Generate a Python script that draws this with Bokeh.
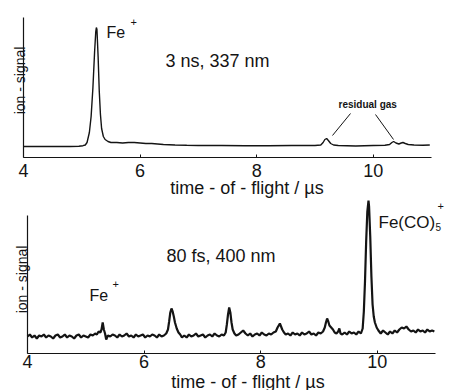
import math
from bokeh.plotting import figure
from bokeh.models import Label, FixedTicker, Range1d
from bokeh.layouts import column
from bokeh.embed import file_html
from bokeh.resources import INLINE

# ---------------- data ----------------
# upper trace: 3 ns, 337 nm  (time in microseconds, signal in arbitrary units)
top_t = [4.00, 4.20, 4.40, 4.60, 4.80, 4.95, 5.02, 5.06, 5.09, 5.13,
         5.16, 5.19, 5.22, 5.24, 5.25, 5.26, 5.28, 5.30, 5.32, 5.34,
         5.37, 5.40, 5.45, 5.50, 5.60, 5.70, 5.80, 5.90, 6.00, 6.10,
         6.20, 6.30, 6.40, 6.60, 6.80, 7.00, 7.40, 7.80, 8.20, 8.60,
         9.00, 9.10, 9.14, 9.17, 9.20, 9.23, 9.27, 9.32, 9.40, 9.70,
         10.00, 10.20, 10.28, 10.32, 10.35, 10.39, 10.44, 10.48, 10.51, 10.55,
         10.60, 10.70, 10.85, 10.97]
top_signal = [0, 0, 0, 0, 0, 0.3, 0.8, 1.5, 4, 14,
              30, 58, 95, 115, 119, 117, 90, 55, 32, 18,
              10, 7, 5, 4, 4, 3.5, 4, 4, 3.5, 3,
              3, 2.5, 2, 1.5, 1.2, 1, 1, 0.8, 0.8, 1,
              1, 1.5, 4, 7, 8, 6, 3, 1.5, 1, 0.5,
              1, 1.2, 2, 4, 5, 3.5, 2.5, 3.5, 4, 3,
              2, 1.5, 1.2, 1.5]

# lower trace: 80 fs, 400 nm
bottom_t = [4.00, 4.04, 4.08, 4.12, 4.16, 4.20, 4.24, 4.28, 4.32, 4.36,
            4.40, 4.44, 4.48, 4.52, 4.56, 4.60, 4.64, 4.68, 4.72, 4.76,
            4.80, 4.84, 4.88, 4.92, 4.96, 5.00, 5.04, 5.08, 5.12,
            5.16, 5.19, 5.22, 5.25, 5.27, 5.29, 5.31, 5.33, 5.35, 5.38,
            5.42, 5.46, 5.50, 5.54, 5.58, 5.62, 5.66, 5.70, 5.74, 5.78,
            5.82, 5.86, 5.90, 5.94, 5.98, 6.02, 6.06, 6.10, 6.14, 6.18,
            6.22, 6.26, 6.30, 6.34, 6.38,
            6.41, 6.43, 6.45, 6.47, 6.49, 6.51, 6.53, 6.56, 6.59, 6.62, 6.65,
            6.69, 6.73, 6.77, 6.81, 6.85, 6.89, 6.93, 6.97, 7.01, 7.05,
            7.09, 7.13, 7.17, 7.21, 7.25, 7.29, 7.33, 7.37,
            7.40, 7.42, 7.44, 7.46, 7.48, 7.50, 7.52, 7.55, 7.58,
            7.62, 7.66, 7.70, 7.74, 7.78, 7.82, 7.86, 7.90, 7.94, 7.98,
            8.02, 8.06, 8.10, 8.14, 8.18, 8.22,
            8.26, 8.29, 8.31, 8.33, 8.35, 8.37, 8.40, 8.43,
            8.47, 8.51, 8.55, 8.59, 8.63, 8.67, 8.71, 8.75, 8.79, 8.83,
            8.87, 8.91, 8.95, 8.99, 9.03, 9.07,
            9.10, 9.12, 9.14, 9.16, 9.18, 9.21, 9.24, 9.27, 9.30, 9.33,
            9.35, 9.37, 9.40,
            9.44, 9.48, 9.52, 9.56, 9.60, 9.64, 9.68, 9.72,
            9.75, 9.77, 9.79, 9.81, 9.83, 9.85, 9.86, 9.88, 9.90, 9.92,
            9.94, 9.96, 9.99, 10.02,
            10.06, 10.10, 10.14, 10.18, 10.22, 10.26, 10.30, 10.34, 10.38, 10.42,
            10.46, 10.50, 10.54, 10.58, 10.62, 10.66, 10.70, 10.74, 10.78, 10.82,
            10.86, 10.90, 10.94, 10.98]
bottom_signal = [0, 2, -1, 1, -2, 1, 0, 2, -1, 1,
                 0, -2, 1, 2, -1, 0, 2, -1, 1, 0,
                 -2, 1, 2, -1, 1, 0, -1, 2, 1,
                 3, 2, 5, 4, 7, 14, 7, 3, -3, 1,
                 0, 2, 1, -1, 2, 0, 1, 3, 0, 1,
                 -1, 2, 0, 1, 2, -1, 1, 0, 2, 1,
                 -1, 2, 0, 1, 3,
                 7, 15, 24, 28, 25, 20, 14, 8, 4, 2, -1,
                 1, -1, 2, 0, 1, 3, 0, 1, 2, -1,
                 1, 2, 0, 3, 1, 0, 2, 1,
                 4, 12, 22, 29, 24, 14, 7, 3, 1,
                 2, 4, 6, 3, 1, 3, 0, 2, 3, 1,
                 4, 2, 1, 3, 2, 4,
                 5, 9, 11, 13, 10, 7, 4, 2,
                 3, 1, 4, 2, 3, 1, 4, 2, 3, 5,
                 2, 3, 1, 4, 3, 5,
                 9, 14, 18, 15, 11, 9, 7, 4, 3, 5,
                 8, 3, 2,
                 4, 2, 5, 3, 4, 2, 5, 3,
                 8, 25, 55, 95, 125, 136, 130, 100, 60, 32,
                 20, 14, 9, 6,
                 3, 6, 4, 2, 5, 3, 6, 4, 7, 9,
                 8, 10, 7, 5, 6, 4, 7, 5, 6, 4,
                 7, 5, 6, 5]

x_ticks = [4, 6, 8, 10]
x_title = "time - of - flight / µs"
y_title = "ion - signal"
top_condition = "3 ns, 337 nm"
bottom_condition = "80 fs, 400 nm"
residual_label = "residual gas"
leader_x0 = [9.610, 10.039]
leader_y0 = [33, 32]
leader_x1 = [9.301, 10.348]
leader_y1 = [11, 7]

# ---------------- styling ----------------
FONT = "Liberation Sans"
INK = "#141414"


def make_fig(height, xr, yr, x_axis_at, y_top, standoff):
    p = figure(width=450, height=height,
               x_range=Range1d(*xr), y_range=Range1d(*yr),
               output_backend="svg", toolbar_location=None,
               min_border_left=0, min_border_right=0,
               min_border_top=0, min_border_bottom=0)
    p.xgrid.visible = False
    p.ygrid.visible = False
    p.outline_line_color = None
    p.background_fill_color = "white"
    p.border_fill_color = "white"
    xa = p.xaxis[0]
    xa.fixed_location = x_axis_at
    xa.bounds = (4, 11)
    xa.ticker = FixedTicker(ticks=x_ticks)
    xa.minor_tick_line_color = None
    xa.major_tick_in = 3
    xa.major_tick_out = 0
    xa.major_tick_line_color = INK
    xa.axis_line_color = INK
    xa.axis_line_width = 1.2
    xa.major_label_text_font = FONT
    xa.major_label_text_font_size = "18px"
    xa.major_label_text_color = INK
    xa.major_label_standoff = standoff
    ya = p.yaxis[0]
    ya.fixed_location = 4
    ya.bounds = (x_axis_at, y_top)
    ya.ticker = FixedTicker(ticks=[])
    ya.minor_tick_line_color = None
    ya.major_tick_line_color = None
    ya.axis_line_color = INK
    ya.axis_line_width = 1.2
    return p


def add_text(p, x, y, text, size, bold=False, align="left",
             baseline="alphabetic", angle=0.0):
    p.add_layout(Label(x=x, y=y, text=text, text_font=FONT,
                       text_font_size=f"{size}px",
                       text_font_style="bold" if bold else "normal",
                       text_color=INK, text_align=align,
                       text_baseline=baseline, angle=angle))


# ---------------- upper panel ----------------
p1 = make_fig(198, (3.6054, 11.3254), (-52, 146), -11, 129, 6)
p1.line(top_t, top_signal, line_color=INK, line_width=1.4)
p1.segment(x0=leader_x0, y0=leader_y0, x1=leader_x1, y1=leader_y1,
           line_color=INK, line_width=1)
add_text(p1, 5.424, 114, "Fe", 16)
add_text(p1, 5.836, 125, "+", 11, baseline="middle")
add_text(p1, 6.436, 86, top_condition, 18)
add_text(p1, 9.404, 42, residual_label, 10, bold=True)
add_text(p1, 7.834, -41, x_title, 18, align="center")
add_text(p1, 3.9485, 66, y_title, 14, align="center", angle=math.pi / 2)

# ---------------- lower panel ----------------
p2 = make_fig(192, (3.5368, 11.2568), (-54, 138), -17, 121, 1)
p2.line(bottom_t, bottom_signal, line_color=INK, line_width=2.2)
add_text(p2, 6.385, 81, bottom_condition, 18)
add_text(p2, 5.064, 41, "Fe", 16)
add_text(p2, 5.458, 53, "+", 11, baseline="middle")
add_text(p2, 10.022, 114, "Fe(CO)", 17)
add_text(p2, 11.0, 110, "5", 10)
add_text(p2, 11.034, 131, "+", 11, baseline="middle")
add_text(p2, 7.783, -45, x_title, 18, align="center")
add_text(p2, 3.914, 57, y_title, 14, align="center", angle=math.pi / 2)

layout = column(p1, p2, spacing=0)
open("out.html", "w").write(file_html(layout, INLINE))
